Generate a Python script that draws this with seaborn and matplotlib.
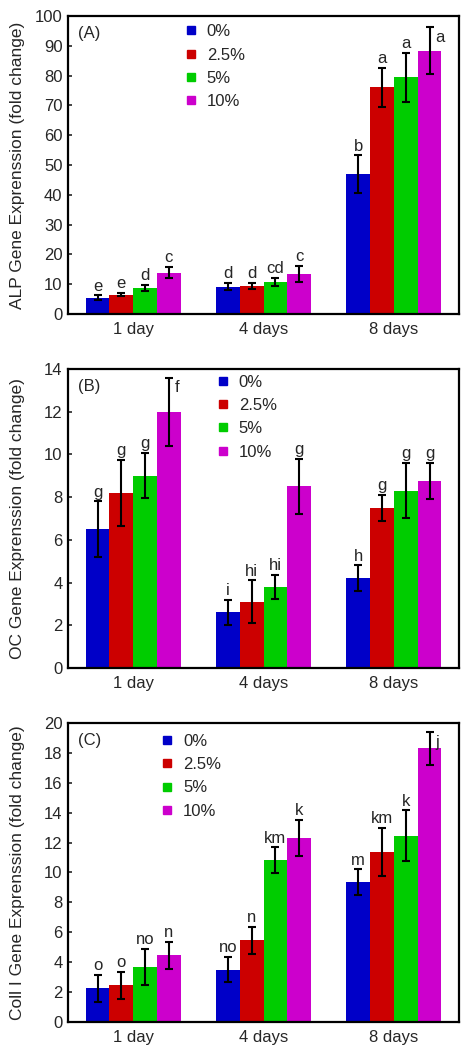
import numpy as np
import pandas as pd
import seaborn as sns
import matplotlib
matplotlib.use("Agg")
import matplotlib.pyplot as plt
from matplotlib.lines import Line2D

# categories
days = ["1 day", "4 days", "8 days"]
concentrations = ["0%", "2.5%", "5%", "10%"]
bar_colors = ["#0000c8", "#cc0000", "#00cc00", "#cc00cc"]

# rows = concentration, columns = day
alp_mean = [[5.4, 9.2, 46.9], [6.5, 9.5, 76.0], [8.7, 10.8, 79.4], [13.9, 13.5, 88.4]]
alp_err = [[0.8, 1.2, 6.3], [0.6, 1.0, 6.6], [0.9, 1.4, 8.3], [2.0, 2.7, 7.8]]
alp_letters = [["e", "d", "b"], ["e", "d", "a"], ["d", "cd", "a"], ["c", "c", "a"]]

oc_mean = [[6.5, 2.6, 4.2], [8.2, 3.1, 7.5], [9.0, 3.8, 8.3], [12.0, 8.5, 8.75]]
oc_err = [[1.3, 0.6, 0.6], [1.55, 1.0, 0.6], [1.05, 0.57, 1.3], [1.6, 1.3, 0.85]]
oc_letters = [["g", "i", "h"], ["g", "hi", "g"], ["g", "hi", "g"], ["f", "g", "g"]]

col_mean = [[2.25, 3.5, 9.35], [2.45, 5.45, 11.35], [3.7, 10.8, 12.45], [4.45, 12.3, 18.3]]
col_err = [[0.9, 0.83, 0.85], [0.9, 0.9, 1.6], [1.2, 0.87, 1.7], [0.9, 1.2, 1.1]]
col_letters = [["o", "no", "m"], ["o", "n", "km"], ["no", "km", "k"], ["n", "k", "j"]]

sns.set_style("ticks")
plt.rcParams['font.family'] = ['Liberation Sans', 'DejaVu Sans']

fig = plt.figure(figsize=(4.76, 10.5), dpi=100)


def draw_panel(ax, tag, ylabel, means, errs, letters, ymax, ystep, legend_xy):
    rows = []
    for i, conc in enumerate(concentrations):
        for j, day in enumerate(days):
            rows.append({"day": day, "conc": conc, "value": means[i][j]})
    df = pd.DataFrame(rows)

    sns.barplot(data=df, x="day", y="value", hue="conc", order=days,
                hue_order=concentrations, palette=bar_colors, width=0.73,
                errorbar=None, saturation=1, legend=False, linewidth=0, ax=ax)

    # error bars and significance letters on top of each bar
    bar_groups = list(ax.containers)
    for i, cont in enumerate(bar_groups):
        xs = [b.get_x() + b.get_width() / 2 for b in cont]
        ax.errorbar(xs, means[i], yerr=errs[i], fmt="none", ecolor="black",
                    elinewidth=1.5, capsize=3, capthick=1.5, zorder=3)
        for x, m, e, lab in zip(xs, means[i], errs[i], letters[i]):
            top = m + e
            if top > 0.93 * ymax:
                ax.annotate(lab, (x, top), xytext=(4, -2), textcoords="offset points",
                            ha="left", va="top", fontsize=12)
            else:
                ax.annotate(lab, (x, top), xytext=(0, 3.5), textcoords="offset points",
                            ha="center", va="baseline", fontsize=12)

    ax.set_ylim(0, ymax)
    ax.set_xlim(-0.5, 2.5)
    ax.set_yticks(np.arange(0, ymax + 0.01, ystep))
    ax.set_xlabel("")
    ax.set_ylabel(ylabel, fontsize=12.5)
    ax.yaxis.set_label_coords(-0.128, 0.5)
    ax.yaxis.label.set_va("center")
    ax.tick_params(axis="y", direction="in", length=3, width=1.2, pad=4, labelsize=12)
    ax.tick_params(axis="x", length=0, pad=6, labelsize=12)
    for sp in ax.spines.values():
        sp.set_visible(True)
        sp.set_color("black")
        sp.set_linewidth(1.6)

    ax.text(0.025, 0.94, tag, transform=ax.transAxes, ha="left", va="center", fontsize=12)

    handles = [Line2D([], [], marker="s", linestyle="none", markersize=5.5,
                      markerfacecolor=c, markeredgecolor=c) for c in bar_colors]
    ax.legend(handles, concentrations, loc="upper left", bbox_to_anchor=legend_xy,
              frameon=False, borderpad=0, borderaxespad=0, handlelength=0.8,
              handletextpad=0.55, labelspacing=0.5, fontsize=12)


ax_a = fig.add_axes([0.1429, 0.701, 0.8214, 0.2838])
draw_panel(ax_a, "(A)", "ALP Gene Exprenssion (fold change)", alp_mean, alp_err,
           alp_letters, 100, 10, (0.297, 0.972))

ax_b = fig.add_axes([0.1429, 0.3638, 0.8214, 0.2848])
draw_panel(ax_b, "(B)", "OC Gene Exprenssion (fold change)", oc_mean, oc_err,
           oc_letters, 14, 2, (0.379, 0.981))

ax_c = fig.add_axes([0.1429, 0.0267, 0.8214, 0.2848])
draw_panel(ax_c, "(C)", "Coll I Gene Exprenssion (fold change)", col_mean, col_err,
           col_letters, 20, 2, (0.237, 0.964))

fig.savefig("out.png", dpi=100)
